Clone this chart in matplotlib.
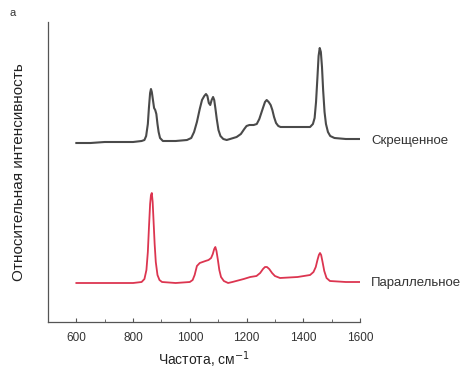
import matplotlib
matplotlib.use("Agg")
import matplotlib.pyplot as plt
from matplotlib.ticker import MultipleLocator

plt.rcParams['font.family'] = ['Liberation Sans', 'DejaVu Sans']

# Crossed polarization spectrum (frequency, relative intensity)
cross_freq = [600, 650, 700, 750, 800, 830, 840, 846, 852, 856, 860, 863, 866, 870, 874,
              878, 882, 886, 890, 895, 905, 950, 990, 1005, 1015, 1025, 1035, 1043, 1051,
              1057, 1062, 1067, 1072, 1077, 1082, 1086, 1090, 1095, 1101, 1108, 1118, 1130,
              1142, 1165, 1180, 1192, 1200, 1210, 1225, 1236, 1245, 1252, 1259, 1265, 1271,
              1278, 1285, 1291, 1297, 1304, 1312, 1320, 1360, 1400, 1424, 1434, 1440, 1445,
              1450, 1454, 1458, 1462, 1466, 1470, 1475, 1480, 1487, 1495, 1510, 1550, 1600]
cross_int = [179, 179, 180, 180, 180, 181, 182, 186, 198, 215, 229, 233, 230, 222, 214,
             212, 208, 198, 190, 184, 181, 181, 182, 184, 190, 200, 213, 222, 226,
             228, 226, 219, 217, 222, 225, 222, 214, 203, 192, 186, 183, 182,
             183, 185, 188, 193, 196, 197, 197, 198, 203, 209, 215, 220, 222,
             220, 217, 212, 205, 199, 196, 195, 195, 195, 195, 198, 204, 220,
             245, 266, 274, 270, 255, 232, 210, 198, 190, 186, 184, 183, 183]

# Parallel polarization spectrum
par_freq = [600, 700, 800, 830, 840, 847, 852, 856, 860, 863, 866, 869, 872, 876, 880,
            886, 893, 902, 950, 1000, 1010, 1017, 1025, 1035, 1045, 1055, 1066, 1075, 1081,
            1086, 1090, 1094, 1099, 1104, 1110, 1120, 1135, 1150, 1190, 1213, 1235, 1248, 1258,
            1265, 1272, 1280, 1290, 1300, 1318, 1380, 1424, 1436, 1444, 1450, 1455, 1459,
            1463, 1468, 1474, 1482, 1494, 1550, 1600]
par_int = [39, 39, 39, 40, 43, 52, 70, 95, 118, 127, 129, 120, 102, 78, 60,
           47, 42, 40, 39, 40, 42, 47, 56, 59, 60, 61, 62, 64, 68,
           73, 75, 71, 62, 52, 45, 41, 39, 40, 43, 45, 46, 49, 53,
           55, 55, 53, 49, 46, 44, 45, 47, 50, 55, 62, 67, 69,
           67, 60, 51, 44, 41, 40, 40]

labels = ["Скрещенное", "Параллельное"]
xticks = [600, 800, 1000, 1200, 1400, 1600]

fig = plt.figure(figsize=(4.72, 3.75), dpi=100)
ax = fig.add_axes([48/472, 1-322/375, (360-48)/472, 0.8])

ax.plot(cross_freq, cross_int, color='#4a4a4a', lw=1.5)
ax.plot(par_freq, par_int, color='#dc3550', lw=1.3)

ax.set_xlim(500, 1600)
ax.set_ylim(0, 300)
ax.spines['top'].set_visible(False)
ax.spines['right'].set_visible(False)
for s in ('left', 'bottom'):
    ax.spines[s].set_color('#555555')
    ax.spines[s].set_linewidth(0.9)
ax.set_yticks([])
ax.set_xticks(xticks)
ax.set_xticklabels([str(t) for t in xticks])
ax.xaxis.set_minor_locator(MultipleLocator(100))
ax.tick_params(axis='x', which='major', direction='in', length=3, pad=7,
               labelsize=8.5, colors='#555555', labelcolor='#333333')
ax.tick_params(axis='x', which='minor', direction='in', length=2.5, colors='#555555')

ax.set_xlabel("Частота, см$^{-1}$", fontsize=10, color='#222222', labelpad=4)
ax.set_ylabel("Относительная интенсивность", fontsize=11, color='#222222', labelpad=16)

ax.text(1640, cross_int[-1] - 2, labels[0], fontsize=9.5, va='center', ha='left',
        color='#333333', clip_on=False)
ax.text(1640, par_int[-1] - 1, labels[1], fontsize=9.5, va='center', ha='left',
        color='#333333', clip_on=False)

fig.text(13/472, 1-13/375, "а", fontsize=8, ha='center', va='center', color='#333333')

fig.savefig("out.png", dpi=100)
